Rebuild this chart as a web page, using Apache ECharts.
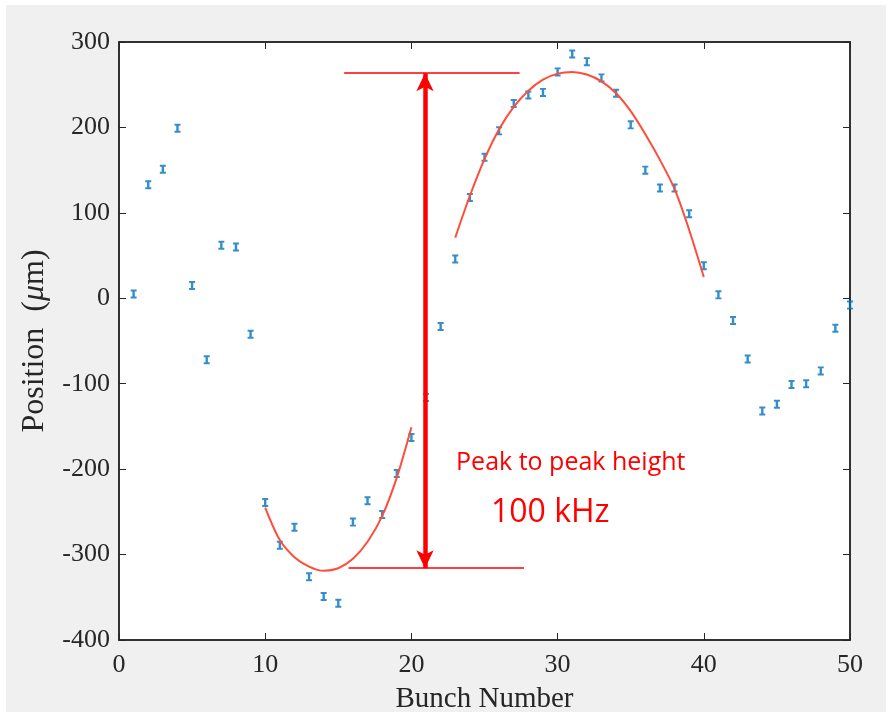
<!DOCTYPE html>
<html>
<head>
<meta charset="utf-8">
<script src="https://cdn.jsdelivr.net/npm/echarts@6/dist/echarts.min.js"></script>
<style>
html,body{margin:0;padding:0;background:#ffffff;}
#main{width:890px;height:715px;}
</style>
</head>
<body>
<div id="main"></div>
<script>
// Measured positions (µm) per bunch number 1..50
const bunchNumbers = [1,2,3,4,5,6,7,8,9,10,11,12,13,14,15,16,17,18,19,20,21,22,23,24,25,26,27,28,29,30,31,32,33,34,35,36,37,38,39,40,41,42,43,44,45,46,47,48,49,50];
const positions = [5,133,151,199,15,-72,62,60,-42,-239,-289,-268,-326,-349,-357,-262,-237,-253,-205,-163,-116,-33,46,118,165,196,228,238,241,265,286,277,258,240,203,150,129,129,99,38,4,-26,-71,-132,-124,-101,-100,-85,-35,-8];

// Fit curve 1 (bunch 10..20)
const fit1X = [10,11,12,13,14,15,16,17,18,19,20];
const fit1Y = [-245,-283,-303,-314,-319,-316,-305,-285,-255,-210,-151];
// Fit curve 2 (bunch 23..40)
const fit2X = [23,24,25,26,27,28,29,30,31,32,33,34,35,36,37,38,39,40];
const fit2Y = [71,120,163,198,224,243,256,263,265,262,254,240,219,192,162,128,80,25];

// Annotation (peak-to-peak)
const peakTop = 263.5, peakBottom = -316;
const arrowX = 20.93;
const topLineX = [15.4, 27.4];
const bottomLineX = [15.7, 27.7];
const annText1 = 'Peak to peak height';
const annText2 = '100 kHz';
const annPos1 = [30.9, -193];
const annPos2 = [29.5, -251];

// Axis ticks
const xTicks = {min:0, max:50, interval:10};
const yTicks = {min:-400, max:300, interval:100};

const chart = echarts.init(document.getElementById('main'), null, {renderer:'canvas'});
const axisColor = '#262626';
const serif = '"Liberation Serif", "Times New Roman", serif';
const ibeam = 'path://M0,0 L10,0 L10,3.5 L7,3.5 L7,12.5 L10,12.5 L10,16 L0,16 L0,12.5 L3,12.5 L3,3.5 L0,3.5 Z';
const annLabel = (txt, size) => ({show: true, position: 'inside', formatter: txt, fontFamily: '"Open Sans", sans-serif', fontSize: size, color: '#ff0000', textBorderWidth: 0, textShadowBlur: 0});

const option = {
  backgroundColor: '#ffffff',
  animation: false,
  graphic: [{
    type: 'rect', z: -10, silent: true,
    shape: {x: 6, y: 5, width: 880, height: 707},
    style: {fill: '#f0f0f0'}
  }],
  grid: {left: 119, right: 40, top: 42, bottom: 75, outerBoundsMode: 'none', containLabel: false, show: true, backgroundColor: '#ffffff', borderColor: axisColor, borderWidth: 1.5},
  xAxis: [{
    type: 'value', min: xTicks.min, max: xTicks.max, interval: xTicks.interval,
    name: 'Bunch Number', nameLocation: 'middle', nameGap: 45,
    nameTextStyle: {fontFamily: serif, fontSize: 29, color: '#262626'},
    axisLine: {show: true, onZero: false, lineStyle: {color: axisColor, width: 1.5}},
    axisTick: {show: true, inside: true, length: 7, lineStyle: {color: axisColor}},
    axisLabel: {fontFamily: serif, fontSize: 26, color: '#262626', margin: 12},
    splitLine: {show: false}
  }, {
    type: 'value', position: 'top', min: xTicks.min, max: xTicks.max, interval: xTicks.interval,
    axisLine: {show: true, onZero: false, lineStyle: {color: axisColor, width: 1.5}},
    axisTick: {show: true, inside: true, length: 7, lineStyle: {color: axisColor}},
    axisLabel: {show: false}, splitLine: {show: false}
  }],
  yAxis: [{
    type: 'value', min: yTicks.min, max: yTicks.max, interval: yTicks.interval,
    name: 'Position  ({i|\u03bc}m)', nameLocation: 'middle', nameGap: 68, nameRotate: 90,
    nameTextStyle: {fontFamily: serif, fontSize: 32, color: '#262626', rich: {i: {fontFamily: serif, fontStyle: 'italic', fontSize: 32, color: '#262626'}}},
    axisLine: {show: true, onZero: false, lineStyle: {color: axisColor, width: 1.5}},
    axisTick: {show: true, inside: true, length: 7, lineStyle: {color: axisColor}},
    axisLabel: {fontFamily: serif, fontSize: 26, color: '#262626', margin: 9},
    splitLine: {show: false}
  }, {
    type: 'value', position: 'right', min: yTicks.min, max: yTicks.max, interval: yTicks.interval,
    axisLine: {show: true, onZero: false, lineStyle: {color: axisColor, width: 1.5}},
    axisTick: {show: true, inside: true, length: 7, lineStyle: {color: axisColor}},
    axisLabel: {show: false}, splitLine: {show: false}
  }],
  series: [
    {
      type: 'scatter', name: 'data', z: 3,
      symbol: ibeam, symbolSize: [6, 9],
      itemStyle: {color: '#0072BD'},
      data: bunchNumbers.map((b, i) => [b, positions[i]])
    },
    {
      type: 'line', name: 'fit1', smooth: 0.3, showSymbol: false, z: 4,
      lineStyle: {color: '#ff4d3a', width: 2},
      data: fit1X.map((x, i) => [x, fit1Y[i]])
    },
    {
      type: 'line', name: 'fit2', smooth: 0.3, showSymbol: false, z: 4,
      lineStyle: {color: '#ff4d3a', width: 2},
      data: fit2X.map((x, i) => [x, fit2Y[i]])
    },
    {
      type: 'line', name: 'annot', data: [], z: 5,
      markLine: {
        silent: true, animation: false,
        label: {show: false},
        data: [
          [{coord: [topLineX[0], peakTop], symbol: 'none', lineStyle: {color: '#ff0000', width: 1.5, type: 'solid'}},
           {coord: [topLineX[1], peakTop], symbol: 'none'}],
          [{coord: [bottomLineX[0], peakBottom], symbol: 'none', lineStyle: {color: '#ff0000', width: 1.5, type: 'solid'}},
           {coord: [bottomLineX[1], peakBottom], symbol: 'none'}],
          [{coord: [arrowX, peakBottom], symbol: 'arrow', symbolSize: [13, 18], lineStyle: {color: '#ff0000', width: 4.5, type: 'solid'}},
           {coord: [arrowX, peakTop], symbol: 'arrow', symbolSize: [13, 18]}]
        ]
      }
    },
    {
      type: 'scatter', name: 'text', symbolSize: 0, z: 6, silent: true,
      itemStyle: {color: '#ff0000', opacity: 1},
      data: [
        {value: annPos1, label: annLabel(annText1, 25)},
        {value: annPos2, label: annLabel(annText2, 32)}
      ]
    }
  ]
};
chart.setOption(option);
</script>
</body>
</html>
